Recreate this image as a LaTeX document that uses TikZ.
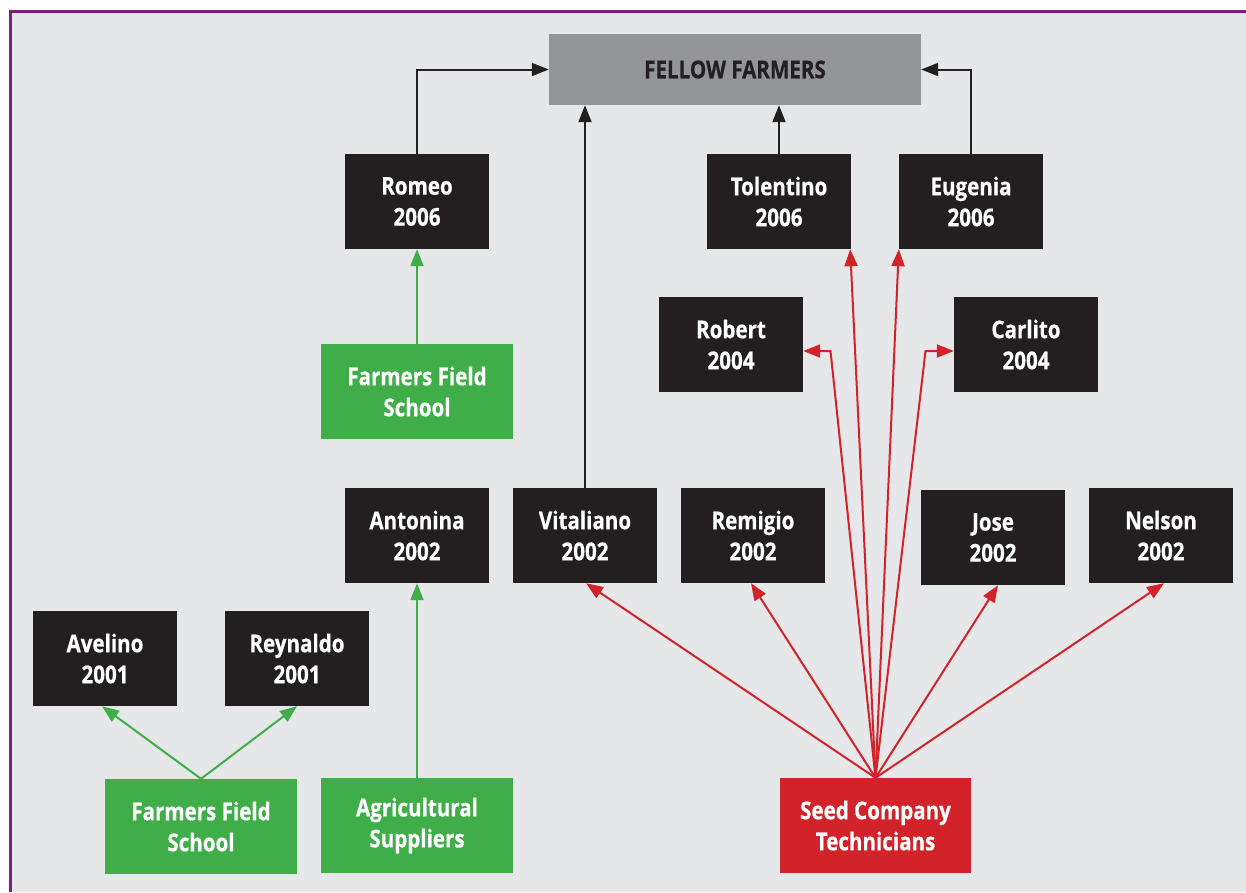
\documentclass[tikz,border=0pt]{standalone}
\usepackage{fontspec}
\setmainfont{Open Sans}[FakeStretch=0.84, BoldFeatures={FakeBold=0.6}]
\usetikzlibrary{arrows.meta, positioning}

\definecolor{panelgray}{HTML}{E6E7E8}
\definecolor{framepurple}{HTML}{7B1F7D}
\definecolor{boxblack}{HTML}{231F20}
\definecolor{boxgreen}{HTML}{3FAE49}
\definecolor{boxred}{HTML}{D2232A}
\definecolor{boxgray}{HTML}{939598}

\begin{document}
\begin{tikzpicture}[
        x=1pt, y=-1pt,
        box/.style={inner sep=0pt, align=center, text=white,
            font=\fontsize{24.5}{31}\selectfont\bfseries},
        farmer/.style={box, fill=boxblack, minimum width=144pt, minimum height=95pt},
        source/.style={box, minimum width=192pt, minimum height=95pt},
        link/.style={line width=2pt, -{Triangle[length=17pt, width=13pt]}}
    ]
        \useasboundingbox (0,0) rectangle (1246,892);
        % Panel and frame
        \fill[panelgray] (10.5,11) rectangle (1246,892);
        \draw[framepurple, line width=3pt] (10.5,892) -- (10.5,11) -- (1246,11);

        % Target
        \node[box, fill=boxgray, text=boxblack, minimum width=372pt, minimum height=71pt] (fellow) at (735,69.5) {FELLOW FARMERS};

        % Farmers
        \node[farmer] (romeo) at (417,201.5) {Romeo\\2006};
        \node[farmer] (tolentino) at (779,201.5) {Tolentino\\2006};
        \node[farmer] (eugenia) at (971,201.5) {Eugenia\\2006};
        \node[farmer] (robert) at (731,344.5) {Robert\\2004};
        \node[farmer] (carlito) at (1026,344.5) {Carlito\\2004};
        \node[farmer] (antonina) at (417,535.5) {Antonina\\2002};
        \node[farmer] (vitaliano) at (585,535.5) {Vitaliano\\2002};
        \node[farmer] (remigio) at (753,535.5) {Remigio\\2002};
        \node[farmer] (jose) at (993,537.5) {Jose\\2002};
        \node[farmer] (nelson) at (1161,535.5) {Nelson\\2002};
        \node[farmer] (avelino) at (105,658.5) {Avelino\\2001};
        \node[farmer] (reynaldo) at (297,658.5) {Reynaldo\\2001};

        % Sources
        \node[source, fill=boxgreen] (schooltop) at (417,391.5) {Farmers Field\\School};
        \node[source, fill=boxgreen] (schoolbottom) at (201,826.5) {Farmers Field\\School};
        \node[source, fill=boxgreen] (suppliers) at (417,825.5) {Agricultural\\Suppliers};
        \node[source, fill=boxred, minimum width=191pt] (seed) at (875.5,825.5) {Seed Company\\Technicians};

        % Black links to fellow farmers
        \draw[link, boxblack] (romeo.north) |- (fellow.west);
        \draw[link, boxblack] (eugenia.north) |- (fellow.east);
        \draw[link, boxblack] (tolentino.north) -- (tolentino.north |- fellow.south);
        \draw[link, boxblack] (vitaliano.north) -- (vitaliano.north |- fellow.south);

        % Green links
        \draw[link, boxgreen] (schooltop.north) -- (romeo.south);
        \draw[link, boxgreen] (suppliers.north) -- (antonina.south);
        \draw[link, boxgreen] (schoolbottom.north) -- ([xshift=-3pt]avelino.south);
        \draw[link, boxgreen] (schoolbottom.north) -- (reynaldo.south);

        % Red links
        \coordinate (robertbend) at (830.5,351);
        \coordinate (carlitobend) at (925.5,351);
        \draw[link, boxred] (seed.north) -- ([xshift=1pt]vitaliano.south);
        \draw[link, boxred] (seed.north) -- ([xshift=-2pt]remigio.south);
        \draw[link, boxred] (seed.north) -- ([xshift=5pt]jose.south);
        \draw[link, boxred] (seed.north) -- ([xshift=3pt]nelson.south);
        \draw[link, boxred] (seed.north) -- ([xshift=-1pt]tolentino.south east);
        \draw[link, boxred] (seed.north) -- (eugenia.south west);
        \draw[link, boxred] (seed.north) -- (robertbend) -- (robertbend -| robert.east);
        \draw[link, boxred] (seed.north) -- (carlitobend) -- (carlitobend -| carlito.west);
\end{tikzpicture}
\end{document}
